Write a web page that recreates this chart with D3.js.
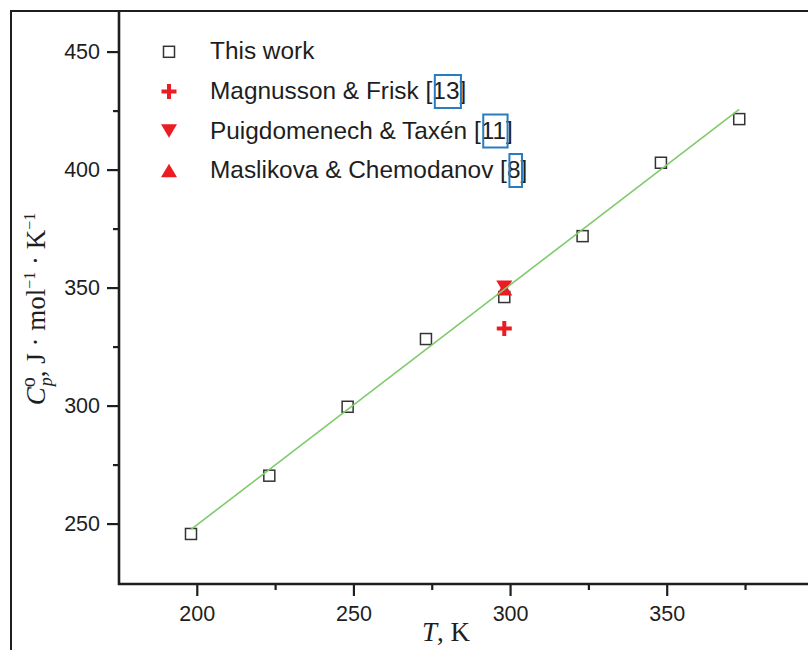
<!DOCTYPE html>
<html>
<head>
<meta charset="utf-8">
<script src="https://cdn.jsdelivr.net/npm/d3@7"></script>
<style>
  html, body { margin: 0; padding: 0; background: #fff; }
  svg { display: block; }
</style>
</head>
<body>
<svg id="chart" width="808" height="650"></svg>
<script>
// Heat capacity data, T in K, Cp in J/(mol K)
const thisWorkT  = [198.15, 223.15, 248.15, 273.15, 298.15, 323.15, 348.15, 373.15];
const thisWorkCp = [245.6, 270.3, 299.5, 328.2, 346.0, 371.8, 402.9, 421.4];

const magnussonT  = [298.15];
const magnussonCp = [332.7];

const puigdomenechT  = [298.15];
const puigdomenechCp = [350.1];

const maslikovaT  = [298.15];
const maslikovaCp = [349.5];

// linear fit through this work's points (end values)
const fitT  = [198.15, 373.15];
const fitCp = [247.5, 425.5];

const xMajorTicks = [200, 250, 300, 350];
const xMinorTicks = [225, 275, 325, 375];
const yMajorTicks = [250, 300, 350, 400, 450];
const yMinorTicks = [275, 325, 375, 425];

const legendLabels = ["This work", "Magnusson & Frisk", "Puigdomenech & Taxén", "Maslikova & Chemodanov"];
const legendRefs   = [null, "13", "11", "8"];
const legendKinds  = ["square", "cross", "down", "up"];

const RED = "#ec1c24";
const GREEN = "#7fcb6c";
const INK = "#1e1e1e";
const BLUE = "#2a7cc0";

const svg = d3.select("#chart");

const x = d3.scaleLinear().domain([175.17, 395.1]).range([119, 808]);
const y = d3.scaleLinear().domain([224.4, 467.2]).range([584, 11]);

// outer frame (open on the right and bottom)
svg.append("path")
  .attr("d", d3.line()([[11, 650], [11, 11], [808, 11]]))
  .attr("fill", "none").attr("stroke", INK).attr("stroke-width", 2);

// axes
function styleAxis(g) {
  g.select(".domain").remove();
  g.selectAll(".tick line").attr("stroke", INK).attr("stroke-width", 2.2);
  g.selectAll(".tick text")
    .attr("fill", INK)
    .style("font-family", "'Liberation Sans', Arial, sans-serif")
    .style("font-size", "21.5px");
}

const xAxisG = svg.append("g").attr("transform", "translate(0,584)");
xAxisG.append("g").call(d3.axisBottom(x).tickValues(xMinorTicks).tickSize(6).tickFormat("")).call(styleAxis);
xAxisG.append("g").call(d3.axisBottom(x).tickValues(xMajorTicks).tickSize(12).tickPadding(10).tickFormat(d3.format("d"))).call(styleAxis);

const yAxisG = svg.append("g").attr("transform", "translate(119,0)");
yAxisG.append("g").call(d3.axisLeft(y).tickValues(yMinorTicks).tickSize(6).tickFormat("")).call(styleAxis);
yAxisG.append("g").call(d3.axisLeft(y).tickValues(yMajorTicks).tickSize(12).tickPadding(7).tickFormat(d3.format("d"))).call(styleAxis);

// axis lines
svg.append("path")
  .attr("d", d3.line()([[119, 11], [119, 584], [808, 584]]))
  .attr("fill", "none").attr("stroke", INK).attr("stroke-width", 2.6);

// marker shapes
const SQ = 11, TW = 16, TH = 13.5, CR = 7.5;
function drawMarker(g, kind, cx, cy) {
  if (kind === "square") {
    g.append("rect")
      .attr("x", cx - SQ / 2).attr("y", cy - SQ / 2)
      .attr("width", SQ).attr("height", SQ)
      .attr("fill", "none").attr("stroke", "#333").attr("stroke-width", 1.5);
  } else if (kind === "cross") {
    g.append("path")
      .attr("d", `M${cx - CR},${cy}H${cx + CR}M${cx},${cy - CR}V${cy + CR}`)
      .attr("stroke", RED).attr("stroke-width", 4).attr("fill", "none");
  } else if (kind === "down") {
    g.append("path")
      .attr("d", d3.line()([[cx - TW / 2, cy - TH / 2], [cx + TW / 2, cy - TH / 2], [cx, cy + TH / 2]]) + "Z")
      .attr("fill", RED);
  } else if (kind === "up") {
    g.append("path")
      .attr("d", d3.line()([[cx - TW / 2, cy + TH / 2], [cx + TW / 2, cy + TH / 2], [cx, cy - TH / 2]]) + "Z")
      .attr("fill", RED);
  }
}

const marks = svg.append("g");
thisWorkT.forEach((t, i) => drawMarker(marks, "square", x(t), y(thisWorkCp[i])));
puigdomenechT.forEach((t, i) => drawMarker(marks, "down", x(t), y(puigdomenechCp[i])));
maslikovaT.forEach((t, i) => drawMarker(marks, "up", x(t), y(maslikovaCp[i])));
magnussonT.forEach((t, i) => drawMarker(marks, "cross", x(t), y(magnussonCp[i])));

// fitted line
svg.append("path")
  .datum(fitT.map((t, i) => [t, fitCp[i]]))
  .attr("d", d3.line().x(d => x(d[0])).y(d => y(d[1])))
  .attr("fill", "none").attr("stroke", GREEN).attr("stroke-width", 1.6);

// legend
const legend = svg.append("g");
const rowBaselines = [59.3, 99, 138.5, 178];
legendLabels.forEach((label, i) => {
  const base = rowBaselines[i];
  drawMarker(legend, legendKinds[i], 169, base - 7.5);
  const txt = legend.append("text")
    .attr("x", 210).attr("y", base)
    .attr("fill", INK)
    .style("font-family", "'Liberation Sans', Arial, sans-serif")
    .style("font-size", "24.4px");
  if (legendRefs[i] === null) {
    txt.text(label);
  } else {
    txt.append("tspan").text(label + " [");
    const num = txt.append("tspan").text(legendRefs[i]);
    txt.append("tspan").text("]");
    const start = 210 + txt.node().getSubStringLength(0, label.length + 2);
    const w = num.node().getComputedTextLength();
    legend.append("rect")
      .attr("x", start + 2.5).attr("y", base - 24)
      .attr("width", w - 1).attr("height", 33)
      .attr("fill", "none").attr("stroke", BLUE).attr("stroke-width", 2);
  }
});

// axis titles
const serif = "'Liberation Serif', 'Times New Roman', serif";
const xt = svg.append("text")
  .attr("x", 446).attr("y", 641)
  .attr("text-anchor", "middle")
  .attr("fill", INK)
  .style("font-family", serif).style("font-size", "27px");
xt.append("tspan").style("font-style", "italic").text("T");
xt.append("tspan").text(", K");

const yt = svg.append("text")
  .attr("transform", "translate(45,309) rotate(-90)")
  .attr("text-anchor", "middle")
  .attr("fill", INK)
  .style("font-family", serif).style("font-size", "27px");
yt.append("tspan").style("font-style", "italic").text("C");
yt.append("tspan").attr("dy", -10).style("font-size", "20px").text("o");
yt.append("tspan").attr("dx", -9).attr("dy", 17).style("font-size", "18px").style("font-style", "italic").text("p");
yt.append("tspan").attr("dy", -7).text(", J · mol");
yt.append("tspan").attr("dy", -10).style("font-size", "16px").text("−1");
yt.append("tspan").attr("dy", 10).text(" · K");
yt.append("tspan").attr("dy", -10).style("font-size", "16px").text("−1");
</script>
</body>
</html>
